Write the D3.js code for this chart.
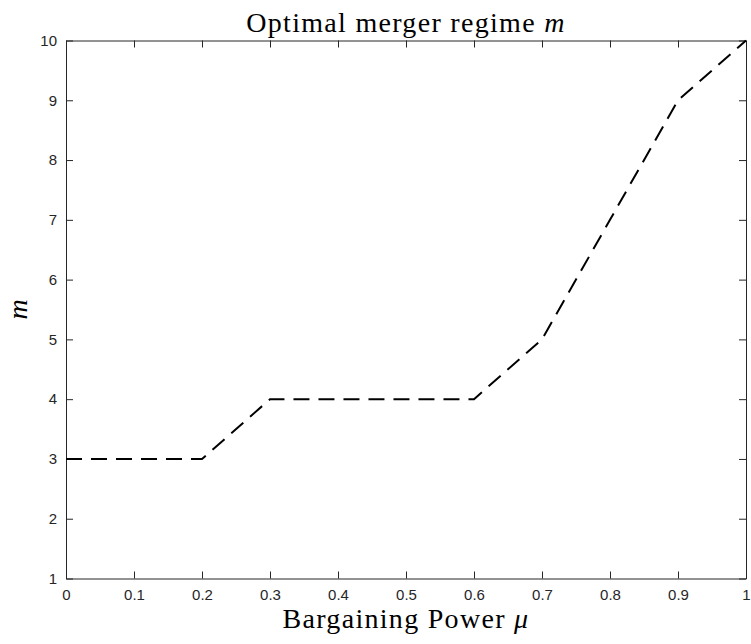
<!DOCTYPE html>
<html>
<head>
<meta charset="utf-8">
<script src="https://cdn.jsdelivr.net/npm/d3@7"></script>
<style>
  body { margin: 0; background: #fff; }
  .lbl { font-family: "Liberation Serif", "DejaVu Serif", serif; fill: #000; }
</style>
</head>
<body>
<div id="chart"></div>
<script>
// bargaining power (x) and optimal merger regime (y)
const mu = [0, 0.1, 0.2, 0.3, 0.4, 0.5, 0.6, 0.7, 0.8, 0.9, 1.0];
const regime = [3, 3, 3, 4, 4, 4, 4, 5, 7, 9, 10];
const xTicks = [0, 0.1, 0.2, 0.3, 0.4, 0.5, 0.6, 0.7, 0.8, 0.9, 1];
const yTicks = [1, 2, 3, 4, 5, 6, 7, 8, 9, 10];

const margin = { top: 40.5, right: 5, bottom: 65.5, left: 66 },
  width = 751 - margin.left - margin.right,
  height = 644 - margin.top - margin.bottom;

const svg = d3.select("#chart")
  .append("svg")
  .attr("width", 751)
  .attr("height", 644)
  .append("g")
  .attr("transform", `translate(${margin.left},${margin.top})`);

const x = d3.scaleLinear().domain([0, 1]).range([0, width]);
const y = d3.scaleLinear().domain([1, 10]).range([height, 0]);

const fmt = d => d3.format("")(d);

// bottom / left axes with inward ticks
svg.append("g")
  .attr("transform", `translate(0, ${height})`)
  .call(d3.axisBottom(x).tickValues(xTicks).tickFormat(fmt).tickSizeInner(-7).tickSizeOuter(0).tickPadding(11));
svg.append("g")
  .call(d3.axisLeft(y).tickValues(yTicks).tickFormat(fmt).tickSizeInner(-7).tickSizeOuter(0).tickPadding(9));

// top / right axes, no labels
svg.append("g")
  .call(d3.axisTop(x).tickValues(xTicks).tickFormat("").tickSizeInner(-7).tickSizeOuter(0));
svg.append("g")
  .attr("transform", `translate(${width}, 0)`)
  .call(d3.axisRight(y).tickValues(yTicks).tickFormat("").tickSizeInner(-7).tickSizeOuter(0));

svg.selectAll(".domain").attr("stroke", "#262626");
svg.selectAll(".tick line").attr("stroke", "#262626");
svg.selectAll(".tick text")
  .style("font-family", "'Liberation Sans', Arial, sans-serif")
  .style("font-size", "15px")
  .style("fill", "#262626");

// the dashed line
svg.append("path")
  .datum(mu.map((d, i) => ({ mu: d, m: regime[i] })))
  .attr("fill", "none")
  .attr("stroke", "#000")
  .attr("stroke-width", 2)
  .attr("stroke-dasharray", "16,9")
  .attr("d", d3.line()
    .x(d => x(d.mu))
    .y(d => y(d.m))
  );

// title
const title = svg.append("text")
  .attr("class", "lbl")
  .attr("x", width / 2)
  .attr("y", -9)
  .attr("text-anchor", "middle")
  .style("font-size", "28px")
  .style("letter-spacing", "1.3px");
title.append("tspan").text("Optimal merger regime ");
title.append("tspan").style("font-style", "italic").text("m");

// x label
const xl = svg.append("text")
  .attr("class", "lbl")
  .attr("x", width / 2)
  .attr("y", 628 - margin.top)
  .attr("text-anchor", "middle")
  .style("font-size", "28px")
  .style("letter-spacing", "1.3px");
xl.append("tspan").text("Bargaining Power ");
xl.append("tspan").style("font-style", "italic").text("μ");

// y label
svg.append("text")
  .attr("class", "lbl")
  .attr("transform", `translate(${27 - margin.left}, ${height / 2}) rotate(-90)`)
  .attr("text-anchor", "middle")
  .style("font-size", "28px")
  .style("font-style", "italic")
  .text("m");
</script>
</body>
</html>
